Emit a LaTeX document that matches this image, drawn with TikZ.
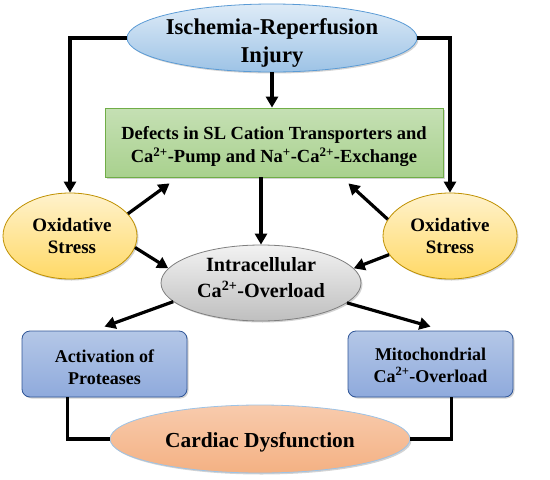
\documentclass[tikz,border=0pt]{standalone}
\usepackage{fontspec}
\setmainfont{Liberation Serif}
\usetikzlibrary{shapes.geometric,arrows.meta,calc,shadows}
\definecolor{blueB}{HTML}{9DC3E6}\definecolor{blueT}{HTML}{DEEBF7}\definecolor{blueD}{HTML}{5B9BD5}
\definecolor{greenB}{HTML}{A9D18E}\definecolor{greenT}{HTML}{C5E0B4}\definecolor{greenD}{HTML}{70AD47}
\definecolor{yelB}{HTML}{FFD966}\definecolor{yelT}{HTML}{FFF2CC}\definecolor{yelD}{HTML}{BF9000}
\definecolor{grayB}{HTML}{BFBFBF}\definecolor{grayT}{HTML}{F2F2F2}\definecolor{grayD}{HTML}{7F7F7F}
\definecolor{boxB}{HTML}{8FAADC}\definecolor{boxT}{HTML}{B4C7E7}\definecolor{boxD}{HTML}{2F5597}
\definecolor{orB}{HTML}{F4B183}\definecolor{orT}{HTML}{F8CBAD}
\newcommand{\fsz}[2]{\fontsize{#1}{#2}\selectfont\bfseries}
\begin{document}
\begin{tikzpicture}[x=1pt,y=-1pt,
  shp/.style={inner sep=0pt, line width=0.8pt, drop shadow={opacity=0.35,shadow xshift=1.5pt,shadow yshift=-1.5pt}},
  ellblue/.style={shp, ellipse, draw=blueD, top color=blueT, bottom color=blueB},
  ellyel/.style={shp, ellipse, draw=yelD, top color=yelT, bottom color=yelB, minimum width=134pt, minimum height=86pt},
  ellgray/.style={shp, ellipse, draw=grayD, top color=grayT, bottom color=grayB},
  ellor/.style={shp, ellipse, draw=blueB, top color=orT, bottom color=orB},
  greenbox/.style={shp, rectangle, draw=greenD, top color=greenT, bottom color=greenB},
  bluebox/.style={shp, rectangle, rounded corners=8pt, draw=boxD, top color=boxT, bottom color=boxB, minimum width=165pt, minimum height=66pt},
  lbl/.style={align=center, inner sep=0pt},
  arr/.style={line width=3.2pt, -{Triangle[length=11pt,width=12pt]}},
  lnk/.style={line width=3.2pt}]
\useasboundingbox (0,0) rectangle (550,480);

% shapes
\node[ellblue, minimum width=290pt, minimum height=68pt] (top) at (272,38) {};
\node[lbl, font=\fsz{22.6}{28}] at (272,43) {Ischemia-Reperfusion\\Injury};

\node[greenbox, minimum width=338pt, minimum height=69pt] (def) at (274,142.5) {};
\node[lbl, font=\fsz{18.5}{23}] at (274,147) {Defects in SL Cation Transporters and\\Ca\textsuperscript{2+}-Pump and Na\textsuperscript{+}-Ca\textsuperscript{2+}-Exchange};

\node[ellyel] (ox1) at (70,236) {};
\node[lbl, font=\fsz{19}{22}] at (72,236) {Oxidative\\Stress};
\node[ellyel] (ox2) at (450,236) {};
\node[lbl, font=\fsz{19}{22}] at (450,236) {Oxidative\\Stress};

\node[ellgray, minimum width=200pt, minimum height=76pt] (intra) at (261,283) {};
\node[lbl, font=\fsz{20.2}{26}] at (261,278) {Intracellular\\Ca\textsuperscript{2+}-Overload};

\node[bluebox] (act) at (104.5,364) {};
\node[lbl, font=\fsz{18}{22}] at (104.5,367) {Activation of\\Proteases};
\node[bluebox] (mito) at (430.5,364) {};
\node[lbl, font=\fsz{18}{22}] at (430.5,365) {Mitochondrial\\Ca\textsuperscript{2+}-Overload};

\node[ellor, minimum width=300pt, minimum height=68pt] (card) at (260,439) {};
\node[lbl, font=\fsz{21.4}{26}] at (260,442) {Cardiac Dysfunction};

% helper coordinates
\coordinate (d1) at ($(def.south west)+(65,6)$);
\coordinate (d2) at ($(def.south east)+(-95,6)$);
\coordinate (a1) at ($(act.north)+(0,-4)$);
\coordinate (m1) at ($(mito.north)+(0,-4)$);
\coordinate (a2) at ($(act.south west)+(46,0)$);
\coordinate (m2) at ($(mito.south west)+(104,0)$);

% connectors
\draw[arr] (top.west) -| (ox1.north);
\draw[arr] (top.east) -| (ox2.north);
\draw[arr] (top.south) -- (top.south |- def.north);
\draw[arr] (intra.north |- def.south) -- (intra.north);
\draw[arr] (ox1.21) -- (d1);
\draw[arr] (ox1.-10) -- (intra.171);
\draw[arr] (ox2.165) -- (d2);
\draw[arr] (ox2.197) -- (intra.9);
\draw[arr] (intra.192) -- (a1);
\draw[arr] (intra.-13) -- (m1);
\draw[lnk] (a2) |- (card.west);
\draw[lnk] (m2) |- (card.east);
\end{tikzpicture}
\end{document}
